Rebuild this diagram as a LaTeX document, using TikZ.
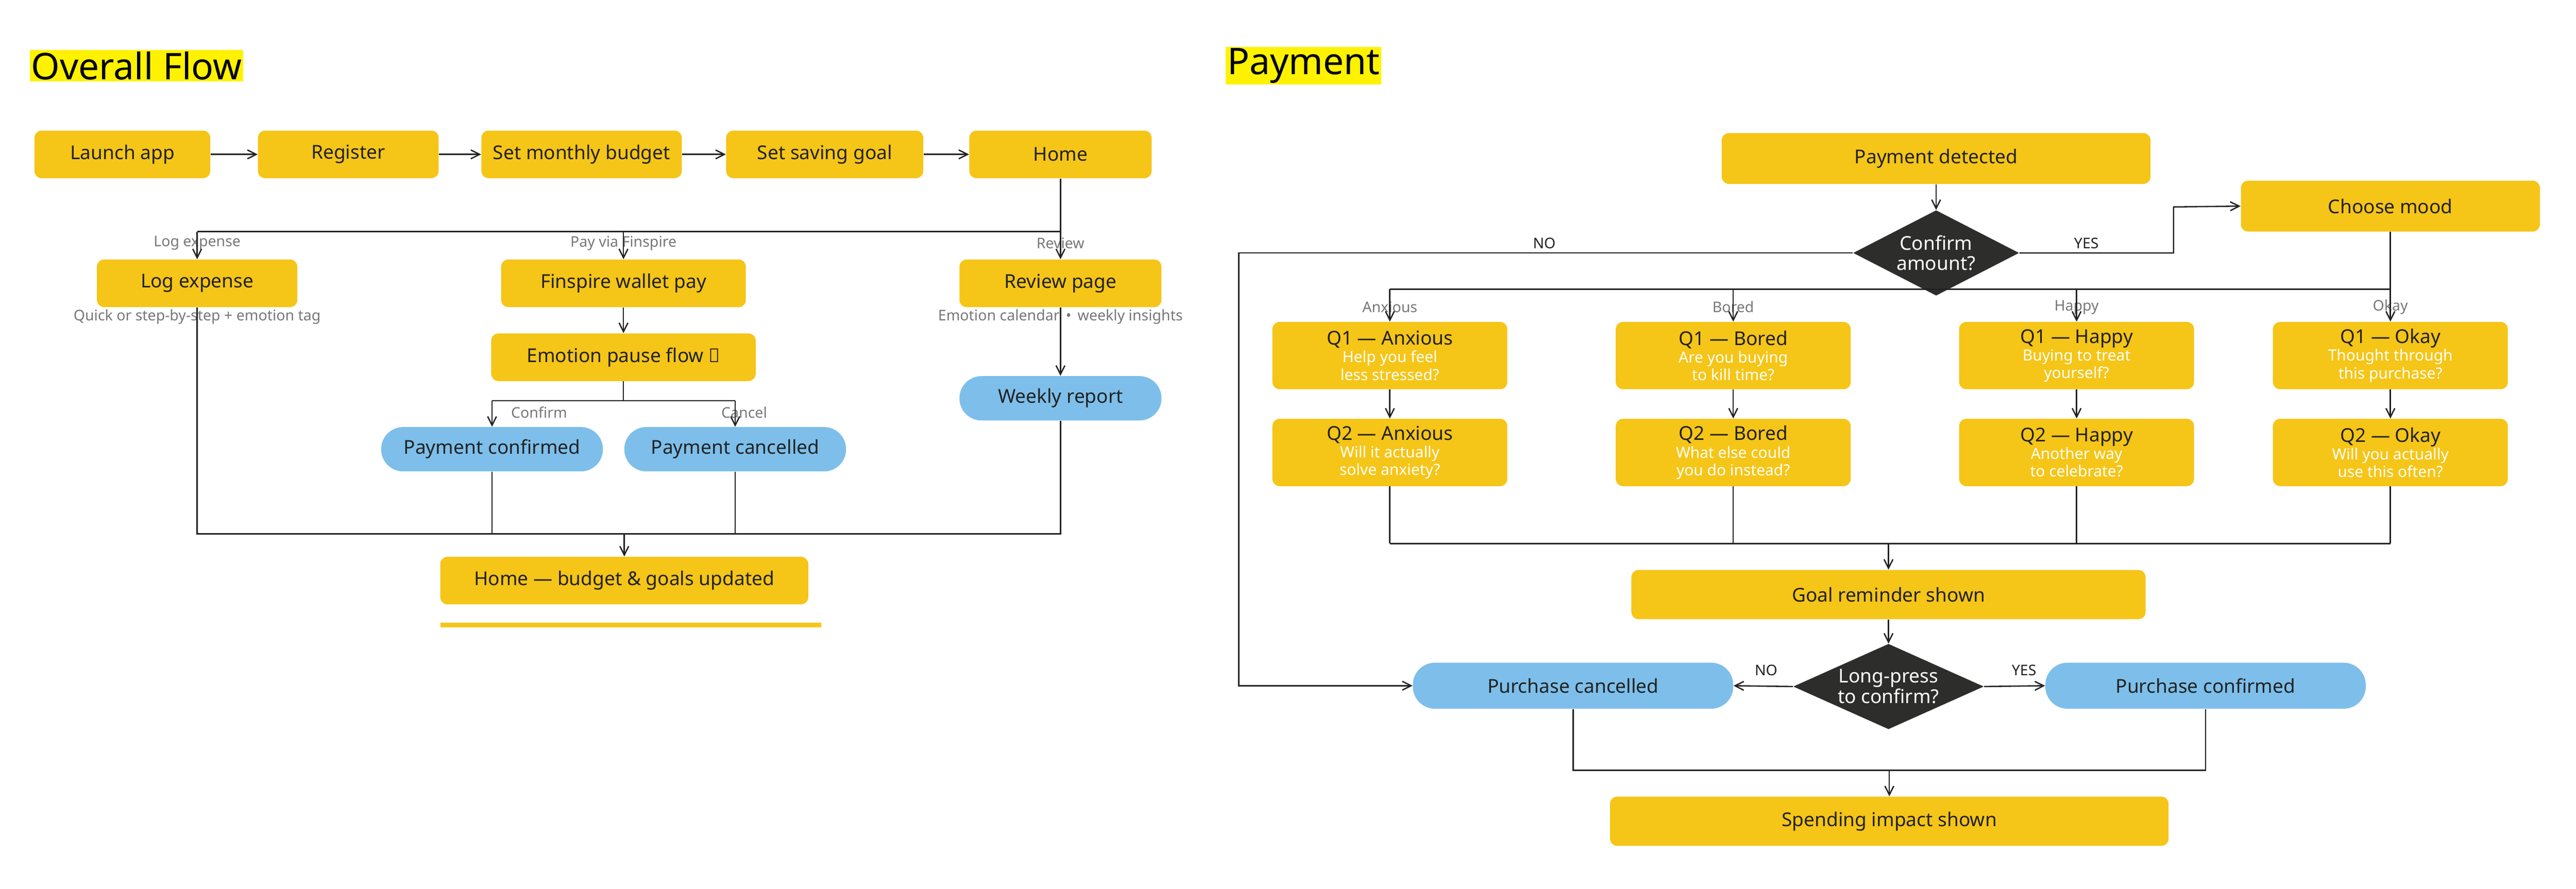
\documentclass[tikz,border=0pt]{standalone}
\usepackage{fontspec}
\setmainfont{Noto Sans}
\usetikzlibrary{arrows.meta,shapes.geometric,positioning}
\definecolor{fyellow}{HTML}{F5C518}
\definecolor{fblue}{HTML}{7DBFEA}
\definecolor{fdark}{HTML}{2D2D2B}
\definecolor{fink}{HTML}{222222}
\definecolor{fgray}{HTML}{777777}
\tikzset{
  sz/.style args={#1x#2}{minimum width=#1*0.03932cm, minimum height=#2*0.03932cm},
  yb/.style={rectangle, rounded corners=5pt, fill=fyellow, text=fink, inner sep=1pt,
    font=\fontsize{13}{15}\selectfont\bfseries, align=center},
  pill/.style={rectangle, rounded corners=15pt, fill=fblue, text=fink, inner sep=1pt,
    font=\fontsize{13}{15}\selectfont\bfseries},
  dia/.style={diamond, aspect=2, fill=fdark, text=white, inner sep=0pt, align=center,
    font=\fontsize{13}{14}\selectfont\bfseries},
  lbl/.style={text=fgray, font=\fontsize{10}{12}\selectfont},
  yn/.style={text=fink, font=\fontsize{10}{12}\selectfont},
  arrow/.style={draw=fink, line width=0.9pt, -{Straight Barb[length=6pt,width=6pt]}},
  line/.style={draw=fink, line width=0.9pt},
  title/.style={fill=yellow, inner sep=1pt, font=\fontsize{25}{28}\selectfont\bfseries}
}
\newcommand{\qsub}[1]{\fontsize{10.5}{12}\selectfont\mdseries\textcolor{white}{#1}}
\begin{document}
\begin{tikzpicture}[x=0.03932cm, y=-0.03932cm]
  \useasboundingbox (0,0) rectangle (1568,541);

  % Overall Flow
  \node[title, anchor=west] (t1) at (18,40) {Overall Flow};
  \node[yb, sz=107x29] (launch) at (74.5,94) {Launch app};
  \node[yb, sz=110x29] (reg) at (212,94) {Register};
  \node[yb, sz=122x29] (budget) at (354,94) {Set monthly budget};
  \node[yb, sz=120x29] (goal) at (502,94) {Set saving goal};
  \node[yb, sz=111x29] (home) at (645.5,94) {Home};

  \node[yb, sz=122x29] (log) at (120,172.5) {Log expense};
  \node[lbl] (logsub) at (120,193) {Quick or step-by-step + emotion tag};
  \node[yb, sz=149x29] (wallet) at (379.5,172.5) {Finspire wallet pay};
  \node[yb, sz=123x29] (review) at (645.5,172.5) {Review page};
  \node[lbl] (revsub) at (645.5,193) {Emotion calendar \,•\, weekly insights};
  \node[yb, sz=161x29] (pause) at (379.5,217.5) {Emotion pause flow ↓};
  \node[pill, sz=135x27] (pconf) at (299.5,273.5) {Payment confirmed};
  \node[pill, sz=135x27] (pcanc) at (447.5,273.5) {Payment cancelled};
  \node[pill, sz=123x27] (weekly) at (645.5,242.5) {Weekly report};
  \node[yb, sz=224x29] (updated) at (380,353.5) {Home — budget \& goals updated};
  \fill[fyellow] (268,379) rectangle (500,382);

  \node[lbl] at (120,148) {Log expense};
  \node[lbl] at (379.5,148) {Pay via Finspire};
  \node[lbl] at (645.5,148) {Review};
  \node[lbl, anchor=west] at (308,251) {Confirm};
  \node[lbl] at (453,251) {Cancel};

  \draw[arrow] (launch) -- (reg);
  \draw[arrow] (reg) -- (budget);
  \draw[arrow] (budget) -- (goal);
  \draw[arrow] (goal) -- (home);

  \coordinate (hb) at (645.5,141);
  \draw[line] (home.south) -- (hb) -- (120,141);
  \draw[arrow] (120,141) -- (log.north);
  \draw[arrow] (379.5,141) -- (wallet.north);
  \draw[arrow] (hb) -- (review.north);
  \draw[arrow] (wallet) -- (pause);
  \draw[arrow] (review.south) -- (weekly.north);
  \draw[line] (pause.south) -- (379.5,244);
  \draw[line] (299.5,244) -- (447.5,244);
  \draw[arrow] (299.5,244) -- (pconf.north);
  \draw[arrow] (447.5,244) -- (pcanc.north);

  \draw[line] (log.south) -- (120,325) -- (645.5,325) -- (weekly.south);
  \draw[line] (pconf.south) -- (299.5,325);
  \draw[line] (pcanc.south) -- (447.5,325);
  \draw[arrow] (380,325) -- (updated.north);

  % Payment
  \node[title, anchor=west] (t2) at (746,40) {Payment};
  \node[yb, sz=261x31] (detect) at (1178.5,96.5) {Payment detected};
  \node[dia, sz=101x52] (confirm) at (1178.5,154) {Confirm\\amount?};
  \node[yb, sz=182x31] (mood) at (1455,125.5) {Choose mood};
  \draw[arrow] (detect) -- (confirm);
  \draw[arrow] (confirm.east) -- (1323,154) -- (1323,126) -- (mood.west);
  \node[yn] at (1270,148) {YES};
  \node[yn] at (940,148) {NO};

  \draw[line] (mood.south) -- (1455,176) -- (846,176);
  \foreach \px/\md/\la/\lb/\lc/\ld [count=\i] in {
      846/Anxious/Help you feel/less stressed?/Will it actually/solve anxiety?,
      1055/Bored/Are you buying/to kill time?/What else could/you do instead?,
      1264/Happy/Buying to treat/yourself?/Another way/to celebrate?,
      1455/Okay/Thought through/this purchase?/Will you actually/use this often?} {
    \node[lbl] at (\px,187) {\md};
    \node[yb, sz=143x41] (qa\i) at (\px,216.5)
      {Q1 — \md\\[-3pt]\qsub{\la}\\[-3pt]\qsub{\lb}};
    \node[yb, sz=143x41] (qb\i) at (\px,275.5)
      {Q2 — \md\\[-3pt]\qsub{\lc}\\[-3pt]\qsub{\ld}};
    \draw[arrow] (\px,176) -- (qa\i.north);
    \draw[arrow] (qa\i) -- (qb\i);
    \draw[line] (qb\i.south) -- (\px,331);
  }
  \draw[line] (846,331) -- (1455,331);
  \node[yb, sz=313x30] (reminder) at (1149.5,362) {Goal reminder shown};
  \draw[arrow] (1149.5,331) -- (reminder.north);

  \node[dia, sz=116x52] (press) at (1149.5,418) {Long-press\\to confirm?};
  \node[pill, sz=195x28] (pcancel) at (957.5,417.5) {Purchase cancelled};
  \node[pill, sz=195x28] (pok) at (1342.5,417.5) {Purchase confirmed};
  \draw[arrow] (reminder) -- (press);
  \draw[arrow] (press.west) -- (pcancel.east);
  \draw[arrow] (press.east) -- (pok.west);
  \node[yn] at (1075,408) {NO};
  \node[yn] at (1232,408) {YES};
  \draw[arrow] (confirm.west) -- (754,154) -- (754,417.5) -- (pcancel.west);

  \node[yb, sz=340x30] (impact) at (1150,500) {Spending impact shown};
  \draw[line] (pcancel.south) -- (957.5,469) -- (1342.5,469) -- (pok.south);
  \draw[arrow] (1150,469) -- (impact.north);
\end{tikzpicture}
\end{document}
